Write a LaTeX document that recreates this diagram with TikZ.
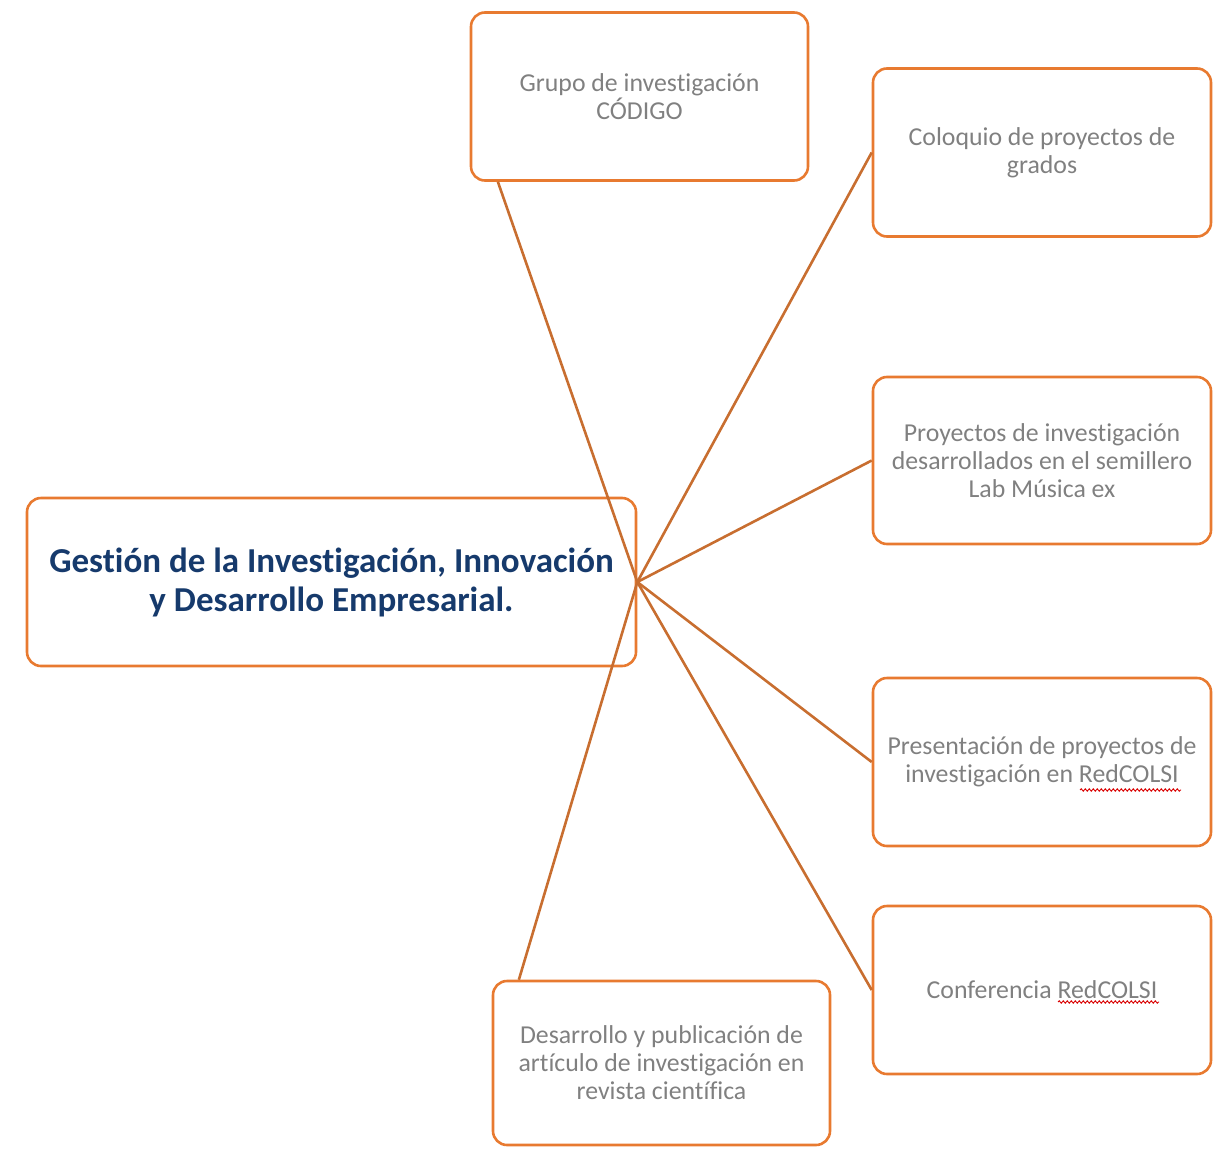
\documentclass[tikz,border=0pt]{standalone}
\usepackage{fontspec}
\setmainfont{Carlito}[Ligatures=NoCommon]
\usetikzlibrary{calc,decorations.pathmorphing}
\definecolor{boxorange}{RGB}{232,122,48}
\definecolor{lineorange}{RGB}{200,110,48}
\definecolor{titleblue}{RGB}{22,58,108}
\definecolor{txtgray}{RGB}{128,128,128}
\tikzset{
  leaf/.style={draw=boxorange, line width=2.6pt, rounded corners=14pt,
    minimum width=337pt, minimum height=168pt, align=center,
    text=txtgray, font=\fontsize{25.8}{28}\selectfont, inner sep=0pt},
  mainbox/.style={draw=boxorange, line width=2.6pt, rounded corners=14pt,
    minimum width=609pt, minimum height=168pt, align=center,
    text=titleblue, font=\fontsize{35}{39}\selectfont\bfseries, inner sep=0pt},
  link/.style={draw=lineorange, line width=2.6pt},
  squig/.style={draw=red!85!black, line width=0.9pt,
    decorate, decoration={snake, amplitude=1.2pt, segment length=4pt}}
}
\begin{document}
\begin{tikzpicture}[x=1pt,y=-1pt]
\useasboundingbox (0,0) rectangle (1220,1148);
\node[mainbox] (main) at (331.5,582) {Gestión de la Investigación, Innovación\\y Desarrollo Empresarial.};
\node[leaf] (grupo) at (639.5,96.5) {Grupo de investigación\\CÓDIGO};
\node[leaf, minimum width=338pt] (coloquio) at (1042,152.5) {Coloquio de proyectos de\\grados};
\node[leaf, minimum width=338pt, minimum height=167pt] (proyectos) at (1042,460.5) {Proyectos de investigación\\desarrollados en el semillero\\Lab Música ex};
\node[leaf, minimum width=338pt] (presentacion) at (1042,762) {Presentación de proyectos de\\investigación en RedCOLSI};
\node[leaf, minimum width=338pt] (conferencia) at (1042,990) {Conferencia RedCOLSI};
\node[leaf, minimum height=164pt] (desarrollo) at (661.5,1063) {Desarrollo y publicación de\\artículo de investigación en\\revista científica};
\coordinate (hub) at (main.east);
\draw[link] (hub) -- ($(grupo.south west)!0.083!(grupo.south east)$);
\draw[link] (hub) -- (coloquio.west);
\draw[link] (hub) -- (proyectos.west);
\draw[link] (hub) -- (presentacion.west);
\draw[link] (hub) -- (conferencia.west);
\draw[link] (hub) -- ($(desarrollo.north west)!0.08!(desarrollo.north east)$);
\draw[squig] ($(presentacion.center)+(38,28)$) -- ($(presentacion.center)+(139,28)$);
\draw[squig] ($(conferencia.center)+(16,12)$) -- ($(conferencia.center)+(117,12)$);
\end{tikzpicture}
\end{document}
